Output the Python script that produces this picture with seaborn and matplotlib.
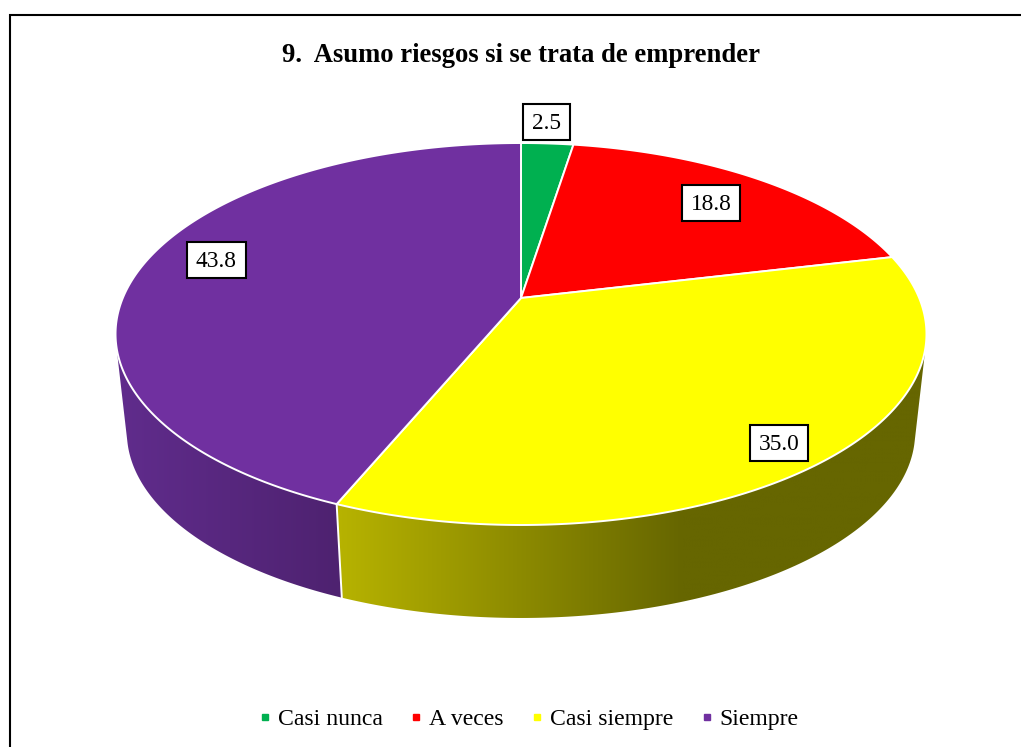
import numpy as np
import matplotlib
matplotlib.use("Agg")
import matplotlib.pyplot as plt
from matplotlib.lines import Line2D
from matplotlib.patches import Polygon, Rectangle
import seaborn as sns

# ---- data ----
categories = ["Casi nunca", "A veces", "Casi siempre", "Siempre"]
values = [2.5, 18.8, 35.0, 43.8]
value_labels = ["2.5", "18.8", "35.0", "43.8"]
title = "9.  Asumo riesgos si se trata de emprender"
colors = ["#00B050", "#FF0000", "#FFFF00", "#7030A0"]

# ---- layout / style ----
W, H = 1021, 747
CX, CY = 521.0, 298.0      # apex of the pie in pixels
B, A, K = 398.2, 184.2, 0.1885   # perspective of the top face
S, NADIR = 0.972, 3846.0   # scaling of the bottom face
label_radius = [1.168, 0.778, 0.888, 0.825]
label_shift = [-0.6, 0.0, 1.0, 4.0]

sns.set_theme(style="white")
plt.rcParams["font.family"] = ["Liberation Serif", "DejaVu Serif"]

fig = plt.figure(figsize=(W / 100, H / 100), dpi=100, facecolor="white")
ax = fig.add_axes([0, 0, 1, 1])
ax.axis("off")


def top(theta, r=1.0):
    u, v = r * np.sin(theta), r * np.cos(theta)
    d = 1 + K * v
    return CX + B * u / d, CY - A * v / d


def bottom(theta):
    x, y = top(theta)
    return CX + S * (x - CX), NADIR - S * (NADIR - y)


def mix(a, b, t):
    a, b = np.array(matplotlib.colors.to_rgb(a)), np.array(matplotlib.colors.to_rgb(b))
    t = np.clip(t, 0, 1)[..., None]
    return a + (b - a) * t


def wall_colour(i, x):
    if i == 3:
        return mix("#602C8C", "#4E2270", (x - 120) / 220)
    return mix("#B6B200", "#666600", (x - 342) / 340)


edges = np.deg2rad(np.cumsum([0] + values) / sum(values) * 360)

# the visible side ends where a line from the vanishing point touches the rim
grid = np.linspace(0, 2 * np.pi, 3601)
gx_, gy_ = top(grid)
ratio = (gx_ - CX) / (NADIR - gy_)
tangent_right, tangent_left = grid[np.argmax(ratio)], grid[np.argmin(ratio)]

# side wall: a horizontal gradient clipped to the outline of each visible slice side
for i in (3, 2):
    a0, a1 = edges[i], edges[i + 1]
    if i == 3:
        a1 = tangent_left
    else:
        a0 = tangent_right
    ts = np.linspace(a0, a1, 400)
    xt, yt = top(ts)
    xb, yb = bottom(ts)
    pts = np.column_stack([np.r_[xt, xb[::-1]], np.r_[yt, yb[::-1]]])
    x0, x1 = pts[:, 0].min() - 2, pts[:, 0].max() + 2
    y0, y1 = pts[:, 1].min() - 2, pts[:, 1].max() + 2
    gx = np.linspace(x0, x1, 600)
    im = ax.imshow(wall_colour(i, gx)[None, :, :], extent=(x0, x1, y1, y0), aspect="auto",
                   interpolation="bilinear", zorder=2)
    clip = Polygon(pts, closed=True, fc="none", ec="none", transform=ax.transData)
    ax.add_patch(clip)
    im.set_clip_path(clip)

ax.set_xlim(0, W)
ax.set_ylim(H, 0)

# white edge between the two visible wall pieces
xa, ya = top(edges[3]); xb_, yb_ = bottom(edges[3])
ax.plot([xa, xb_], [ya, yb_], color="white", lw=1.4, zorder=3)

# top face
for i, c in enumerate(colors):
    ts = np.linspace(edges[i], edges[i + 1], 300)
    xs, ys = top(ts)
    pts = np.column_stack([np.r_[CX, xs], np.r_[CY, ys]])
    ax.add_patch(Polygon(pts, closed=True, fc=c, ec="white", lw=1.4,
                         joinstyle="round", zorder=4))

# value labels
fig.canvas.draw()
rend = fig.canvas.get_renderer()
for i, lab in enumerate(value_labels):
    mid = (edges[i] + edges[i + 1]) / 2 + np.deg2rad(label_shift[i])
    x, y = top(mid, label_radius[i])
    t = ax.text(x, y + 1.5, lab, ha="center", va="center", fontsize=16.8, color="black", zorder=7)
    w = t.get_window_extent(rend).width + 18
    ax.add_patch(Rectangle((x - w / 2, y - 18), w, 36, fc="white", ec="black", lw=1.5, zorder=6))

# title
ax.text(CX, 55, title, ha="center", va="center", fontsize=19.2, fontweight="bold", color="black", zorder=7)

# frame (left and top edges visible)
ax.plot([10, 10, W], [H, 15, 15], color="black", lw=1.5, zorder=1, solid_joinstyle="miter")

# legend
handles = [Line2D([], [], ls="", marker="s", ms=5, mfc=c, mec=c) for c in colors]
ax.legend(handles, categories, loc="center", bbox_to_anchor=(529 / W, 1 - 719 / H),
          bbox_transform=fig.transFigure, ncols=4, frameon=False, fontsize=17.1,
          handlelength=0.45, handletextpad=0.3, columnspacing=1.2, borderpad=0, labelcolor="black")

fig.savefig("out.png", dpi=100, facecolor="white")
